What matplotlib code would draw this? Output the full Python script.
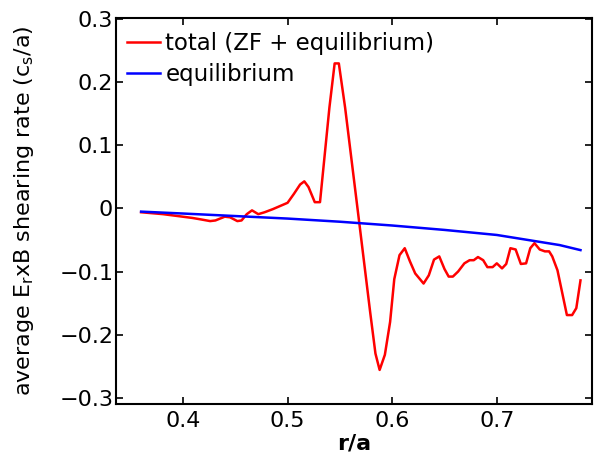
import matplotlib
matplotlib.use("Agg")
import matplotlib.pyplot as plt

plt.rcParams['font.family'] = ['DejaVu Sans']
plt.rcParams['mathtext.fontset'] = 'dejavusans'

r_total = [0.360, 0.381, 0.395, 0.409, 0.416, 0.426, 0.431, 0.440, 0.445, 0.452,
           0.456, 0.461, 0.466, 0.472, 0.478, 0.486, 0.493, 0.500, 0.506, 0.512,
           0.516, 0.520, 0.526, 0.531, 0.540, 0.545, 0.549, 0.555, 0.569, 0.579,
           0.584, 0.588, 0.593, 0.598, 0.602, 0.607, 0.612, 0.617, 0.622, 0.630,
           0.635, 0.640, 0.645, 0.650, 0.654, 0.658, 0.663, 0.669, 0.674, 0.678,
           0.682, 0.687, 0.691, 0.696, 0.700, 0.705, 0.709, 0.713, 0.718, 0.723,
           0.728, 0.732, 0.736, 0.741, 0.746, 0.750, 0.753, 0.758, 0.767, 0.772,
           0.776, 0.780]
total = [-0.006, -0.009, -0.012, -0.015, -0.017, -0.020, -0.019, -0.013, -0.014, -0.020,
         -0.019, -0.009, -0.003, -0.009, -0.006, -0.001, 0.004, 0.009, 0.023, 0.038,
         0.043, 0.034, 0.010, 0.010, 0.160, 0.230, 0.230, 0.160, -0.029, -0.165,
         -0.230, -0.256, -0.232, -0.180, -0.112, -0.074, -0.063, -0.084, -0.103, -0.119,
         -0.106, -0.081, -0.076, -0.096, -0.108, -0.108, -0.100, -0.087, -0.082, -0.082,
         -0.077, -0.082, -0.093, -0.093, -0.087, -0.095, -0.088, -0.063, -0.065, -0.088,
         -0.087, -0.063, -0.055, -0.065, -0.068, -0.068, -0.076, -0.098, -0.169, -0.169,
         -0.158, -0.114]

r_eq = [0.36, 0.40, 0.45, 0.50, 0.55, 0.60, 0.65, 0.70, 0.73, 0.76, 0.78]
equilibrium = [-0.005, -0.008, -0.012, -0.016, -0.021, -0.027, -0.034, -0.042, -0.050, -0.058, -0.066]

xticks = [0.4, 0.5, 0.6, 0.7]
yticks = [-0.3, -0.2, -0.1, 0, 0.1, 0.2, 0.3]
ytick_labels = ['\u22120.3', '\u22120.2', '\u22120.1', '0', '0.1', '0.2', '0.3']

fig = plt.figure(figsize=(6.04, 4.59), dpi=100)
ax = fig.add_axes([116/604, 1-404/459, (592-116)/604, (404-18)/459])

ax.plot(r_total, total, color='#ff0000', lw=1.8, label='total (ZF + equilibrium)')
ax.plot(r_eq, equilibrium, color='#0000ff', lw=1.8, label='equilibrium')

ax.set_xlim(0.336, 0.791)
ax.set_ylim(-0.31, 0.302)
ax.set_xticks(xticks)
ax.set_xticklabels([str(t) for t in xticks])
ax.set_yticks(yticks)
ax.set_yticklabels(ytick_labels)
ax.tick_params(direction='in', length=5, width=1.2, top=True, right=True, labelsize=16)
ax.tick_params(axis='y', pad=2)
ax.tick_params(axis='x', pad=5)
for s in ax.spines.values():
    s.set_linewidth(1.5)

ax.set_xlabel('r/a', fontsize=16, fontweight='bold', labelpad=2)
ax.set_ylabel(r'average E$_\mathregular{r}$xB shearing rate (c$_\mathregular{s}$/a)',
              fontsize=16, labelpad=17)

leg = ax.legend(loc='upper left', bbox_to_anchor=(0, 1 - 3/386), frameon=False,
                fontsize=16.5, handlelength=1.45, handletextpad=0.22,
                borderaxespad=0.08, borderpad=0.4, labelspacing=0.36)

fig.savefig('out.png', dpi=100)
